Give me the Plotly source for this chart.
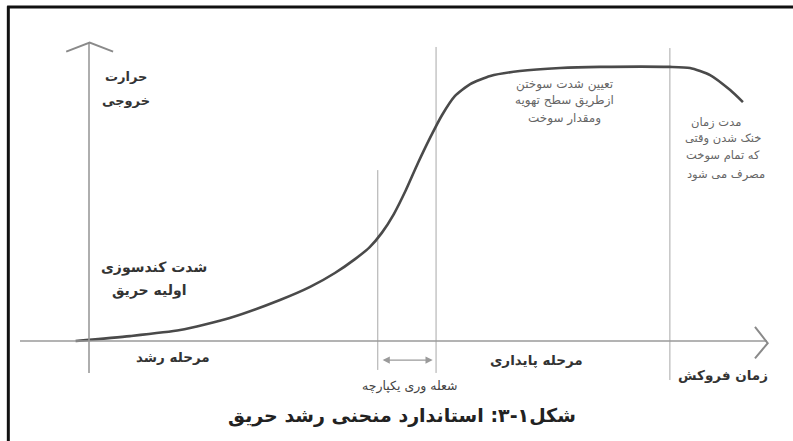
import plotly.graph_objects as go

# ---- data (arbitrary units: time 0-100, heat release 0-100) ----
time = [-2, 6.1, 13.6, 21, 28.5, 33, 36.7, 39.7, 41.9, 43.7, 45.5, 47.3, 49.1,
        50.9, 52.7, 54.6, 56.9, 59.9, 64.3, 70.3, 76.3, 86.7, 89.7, 92.7, 95.7, 97.6]
heat = [0, 1.8, 4, 8.4, 15, 19.8, 24.9, 30, 34.4, 39.6, 46.5, 55.3, 65.2,
        74.4, 82.8, 89.7, 94.1, 97.1, 98.9, 100, 100.4, 100.4, 100, 97.4, 91.9, 87.5]

phase_times = [43.1, 51.8, 86.7]
phase_tops = [62.6, 107.7, 107.3]
phase_bottoms = [-10.6, -11.7, -14.3]

title_text = "شکل۱-۳: استاندارد منحنی رشد حریق"

FONT = "DejaVu Sans"
fig = go.Figure()

# phase boundary lines
for t, top, bot in zip(phase_times, phase_tops, phase_bottoms):
    fig.add_trace(go.Scatter(x=[t, t], y=[bot, top], mode="lines",
                             line=dict(color="#a8a8a8", width=1),
                             hoverinfo="skip", showlegend=False))

# main curve
fig.add_trace(go.Scatter(x=time, y=heat, mode="lines",
                         line=dict(color="#4a4a4a", width=2.6, shape="spline", smoothing=0.6),
                         showlegend=False))

shapes = []
# axes
shapes.append(dict(type="line", xref="x", yref="y", x0=0, x1=0, y0=-11.7, y1=109.2,
                   line=dict(color="#9a9a9a", width=1.6)))
shapes.append(dict(type="line", xref="x", yref="y", x0=-10.3, x1=101.2, y0=0, y1=0,
                   line=dict(color="#9a9a9a", width=1.6)))
# arrow heads
shapes.append(dict(type="path", xref="x", yref="y",
                   path="M -3.4,106.0 L 0.1,109.3 L 3.6,106.0",
                   line=dict(color="#8a8a8a", width=2)))
shapes.append(dict(type="path", xref="x", yref="y",
                   path="M 99.4,5.2 L 101.3,-0.8 L 99.4,-6.4",
                   line=dict(color="#8a8a8a", width=2)))
# frame
shapes.append(dict(type="line", xref="paper", yref="paper", x0=0.009, x1=1.0, y0=0.984, y1=0.984,
                   line=dict(color="#111", width=3)))
shapes.append(dict(type="line", xref="paper", yref="paper", x0=0.0105, x1=0.0105, y0=0.0, y1=0.986,
                   line=dict(color="#111", width=3)))

ann = []
def label(x, y, text, size, color="#333", bold=False):
    if bold:
        text = "<b>" + text + "</b>"
    ann.append(dict(x=x, y=y, xref="x", yref="y", text=text, showarrow=False,
                    font=dict(family=FONT, size=size, color=color)))

label(5.5, 97, "حرارت", 13, "#333", True)
label(5.5, 88, "خروجی", 13, "#333", True)
label(9.7, 27, "شدت کندسوزی", 14, "#333", True)
label(9.0, 18.5, "اولیه حریق", 14, "#333", True)
label(71, 94, "تعیین شدت سوختن", 12, "#666")
label(71, 88, "ازطریق سطح تهویه", 12, "#666")
label(71, 81.5, "ومقدار سوخت", 12, "#666")
label(93.6, 80, "مدت زمان", 11.5, "#666")
label(94.6, 74, "خنک شدن وقتی", 11.5, "#666")
label(94.6, 68, "که تمام سوخت", 11.5, "#666")
label(95.0, 61, "مصرف می شود", 11.5, "#666")
label(12.5, -5.8, "مرحله رشد", 13.5, "#333", True)
label(66.8, -7.0, "مرحله پایداری", 13.5, "#333", True)
label(94.6, -12.5, "زمان فروکش", 13.5, "#333", True)
label(47.9, -16.5, "شعله وری یکپارچه", 12.5, "#444")

# flashover double arrow
ann.append(dict(x=51.3, y=-7.0, ax=43.6, ay=-7.0, xref="x", yref="y", axref="x", ayref="y",
                text="", showarrow=True, arrowhead=2, arrowside="end+start",
                arrowsize=1.2, arrowwidth=1.2, arrowcolor="#9a9a9a"))

ann.append(dict(x=0.507, y=0.027, xref="paper", yref="paper", text="<b>" + title_text + "</b>",
                showarrow=False, font=dict(family=FONT, size=19, color="#222")))

fig.update_layout(
    width=793, height=441,
    margin=dict(l=0, r=0, t=0, b=0),
    paper_bgcolor="white", plot_bgcolor="white",
    xaxis=dict(range=[-13.284, 105.075], visible=False, fixedrange=True),
    yaxis=dict(range=[-36.63, 124.91], visible=False, fixedrange=True),
    shapes=shapes, annotations=ann, showlegend=False,
)

fig.write_html("out.html", config={"displayModeBar": False},
               post_script="document.body.style.margin='0';document.body.style.padding='0';")
